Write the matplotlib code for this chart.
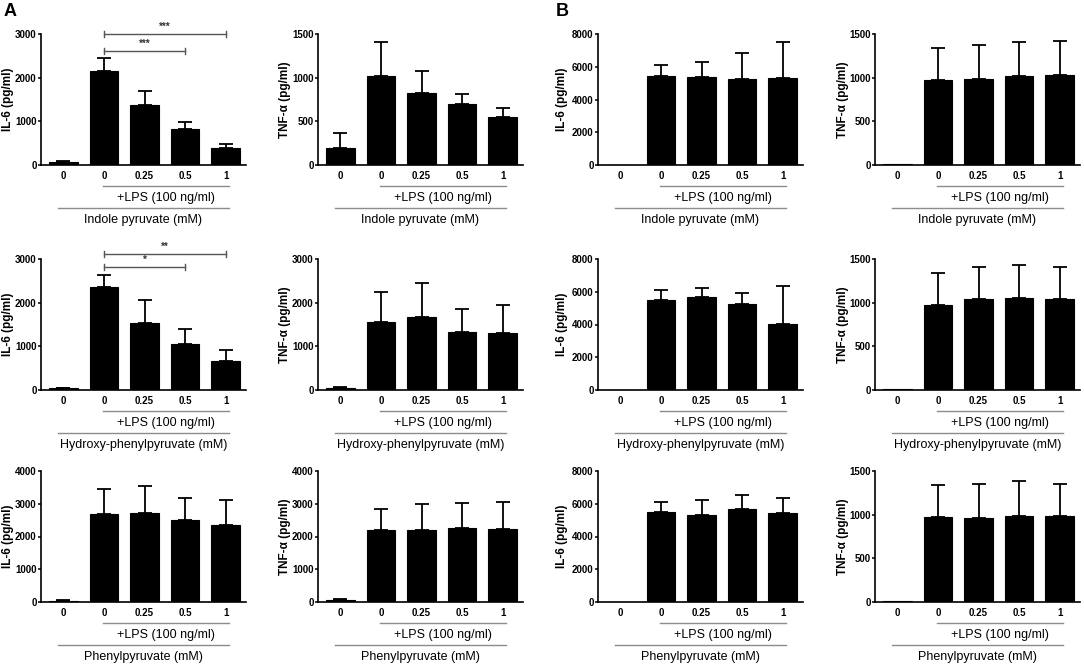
import matplotlib
matplotlib.use("Agg")
import matplotlib.pyplot as plt
from matplotlib import transforms
import numpy as np

plt.rcParams['font.family'] = ['Liberation Sans', 'DejaVu Sans']

# ---------------- data ----------------
conc_labels = ['0', '0', '0.25', '0.5', '1']
lps_label = '+LPS (100 ng/ml)'
compounds = ['Indole pyruvate (mM)', 'Hydroxy-phenylpyruvate (mM)', 'Phenylpyruvate (mM)']
ylabels = ['IL-6 (pg/ml)', 'TNF-\u03b1 (pg/ml)', 'IL-6 (pg/ml)', 'TNF-\u03b1 (pg/ml)']

# Panel A (cols 1-2), Panel B (cols 3-4); mean and SD
il6_ip_A = [68, 2160, 1385, 835, 395]
il6_ip_A_sd = [22, 290, 305, 155, 75]
tnf_ip_A = [200, 1015, 820, 703, 553]
tnf_ip_A_sd = [172, 390, 262, 106, 104]
il6_ip_B = [0, 5455, 5395, 5270, 5295]
il6_ip_B_sd = [0, 630, 895, 1590, 2215]
tnf_ip_B = [6, 970, 990, 1020, 1028]
tnf_ip_B_sd = [0, 370, 382, 393, 397]

il6_hpp_A = [38, 2350, 1542, 1053, 664]
il6_hpp_A_sd = [15, 291, 511, 336, 252]
tnf_hpp_A = [45, 1564, 1662, 1322, 1307]
tnf_hpp_A_sd = [31, 680, 794, 529, 643]
il6_hpp_B = [0, 5470, 5673, 5265, 4020]
il6_hpp_B_sd = [0, 630, 551, 674, 2327]
tnf_hpp_B = [6, 971, 1039, 1054, 1039]
tnf_hpp_B_sd = [0, 370, 366, 382, 370]

il6_pp_A = [41, 2697, 2728, 2494, 2351]
il6_pp_A_sd = [20, 743, 804, 692, 753]
tnf_pp_A = [61, 2192, 2212, 2253, 2232]
tnf_pp_A_sd = [40, 636, 768, 777, 828]
il6_pp_B = [0, 5483, 5340, 5688, 5422]
il6_pp_B_sd = [0, 594, 900, 859, 900]
tnf_pp_B = [6, 972, 961, 980, 980]
tnf_pp_B_sd = [0, 370, 392, 403, 373]

ymax = [[3000, 1500, 8000, 1500],
        [3000, 3000, 8000, 1500],
        [4000, 4000, 8000, 1500]]
ystep = [[1000, 500, 2000, 500],
         [1000, 1000, 2000, 500],
         [1000, 1000, 2000, 500]]

# significance brackets: (row, col, x1, x2, y, label)
brackets = [(0, 0, 1, 4, 3000, '***'), (0, 0, 1, 3, 2605, '***'),
            (1, 0, 1, 4, 3115, '**'), (1, 0, 1, 3, 2810, '*')]

means = [[il6_ip_A, tnf_ip_A, il6_ip_B, tnf_ip_B],
         [il6_hpp_A, tnf_hpp_A, il6_hpp_B, tnf_hpp_B],
         [il6_pp_A, tnf_pp_A, il6_pp_B, tnf_pp_B]]
sds = [[il6_ip_A_sd, tnf_ip_A_sd, il6_ip_B_sd, tnf_ip_B_sd],
       [il6_hpp_A_sd, tnf_hpp_A_sd, il6_hpp_B_sd, tnf_hpp_B_sd],
       [il6_pp_A_sd, tnf_pp_A_sd, il6_pp_B_sd, tnf_pp_B_sd]]

# ---------------- layout (pixels) ----------------
W, H = 1084, 665
fig = plt.figure(figsize=(W / 100, H / 100), dpi=100)
col_left = [41, 318, 598, 875]
ax_w = 205
row_top = [34, 259, 471]
ax_h = 131
ylab_off = [-27, -27, -30, -26]
gray = '#8c8c8c'

x = np.arange(5)
for r in range(3):
    for c in range(4):
        ax = fig.add_axes([col_left[c] / W, 1 - (row_top[r] + ax_h) / H, ax_w / W, ax_h / H])
        m = np.array(means[r][c], dtype=float)
        s = np.array(sds[r][c], dtype=float)
        ax.bar(x, m, width=0.7, color='black', edgecolor='black', linewidth=0.8, zorder=2)
        mask = s > 0
        ax.errorbar(x[mask], m[mask], yerr=[np.zeros(mask.sum()), s[mask]], fmt='none',
                    ecolor='black', elinewidth=1.3, capsize=5, capthick=1.3, zorder=3)
        ax.set_xlim(-0.55, 4.5)
        ax.set_ylim(0, ymax[r][c])
        ax.set_yticks(np.arange(0, ymax[r][c] + 1, ystep[r][c]))
        ax.set_xticks(x)
        ax.set_xticklabels(conc_labels, fontsize=7, fontweight='bold')
        for lab in ax.get_yticklabels():
            lab.set_fontsize(7)
            lab.set_fontweight('bold')
        ax.tick_params(axis='x', length=0, pad=4)
        ax.tick_params(axis='y', length=2.5, width=1.1, pad=0.6)
        for sp in ['top', 'right']:
            ax.spines[sp].set_visible(False)
        for sp in ['left', 'bottom']:
            ax.spines[sp].set_linewidth(1.2)
        ax.set_ylabel(ylabels[c], fontsize=8.5, fontweight='bold')
        ax.yaxis.set_label_coords(ylab_off[c] / ax_w, 0.5)

        base = transforms.blended_transform_factory(ax.transData, ax.transAxes)
        t_lps_line = transforms.offset_copy(base, fig, y=-21, units='dots')
        t_lps_text = transforms.offset_copy(base, fig, y=-33, units='dots')
        t_out_line = transforms.offset_copy(base, fig, y=-43, units='dots')
        t_out_text = transforms.offset_copy(base, fig, y=-55, units='dots')
        ax.plot([0.97, 4.07], [0, 0], color=gray, lw=1.0, transform=t_lps_line, clip_on=False)
        ax.text(2.52, 0, lps_label, fontsize=9, ha='center', va='center', transform=t_lps_text)
        ax.plot([-0.13, 4.07], [0, 0], color=gray, lw=1.0, transform=t_out_line, clip_on=False)
        ax.text(1.97, 0, compounds[r], fontsize=9, ha='center', va='center', transform=t_out_text)

        for (br, bc, x1, x2, yb, lab) in brackets:
            if br == r and bc == c:
                tick = ymax[r][c] * 0.022
                ax.plot([x1, x2], [yb, yb], color='#555555', lw=1.0, clip_on=False, zorder=4)
                ax.plot([x1, x1], [yb - tick, yb + tick], color='#555555', lw=1.0, clip_on=False)
                ax.plot([x2, x2], [yb - tick, yb + tick], color='#555555', lw=1.0, clip_on=False)
                ax.text((x1 + x2) / 2, yb + ymax[r][c] * 0.015, lab, fontsize=7, fontweight='bold',
                        ha='center', va='bottom', color='#333333', clip_on=False)

fig.text(4 / W, 1 - 3 / H, 'A', fontsize=13, fontweight='bold', ha='left', va='top')
fig.text(556 / W, 1 - 3 / H, 'B', fontsize=13, fontweight='bold', ha='left', va='top')

fig.savefig('out.png', dpi=100, facecolor='white')
